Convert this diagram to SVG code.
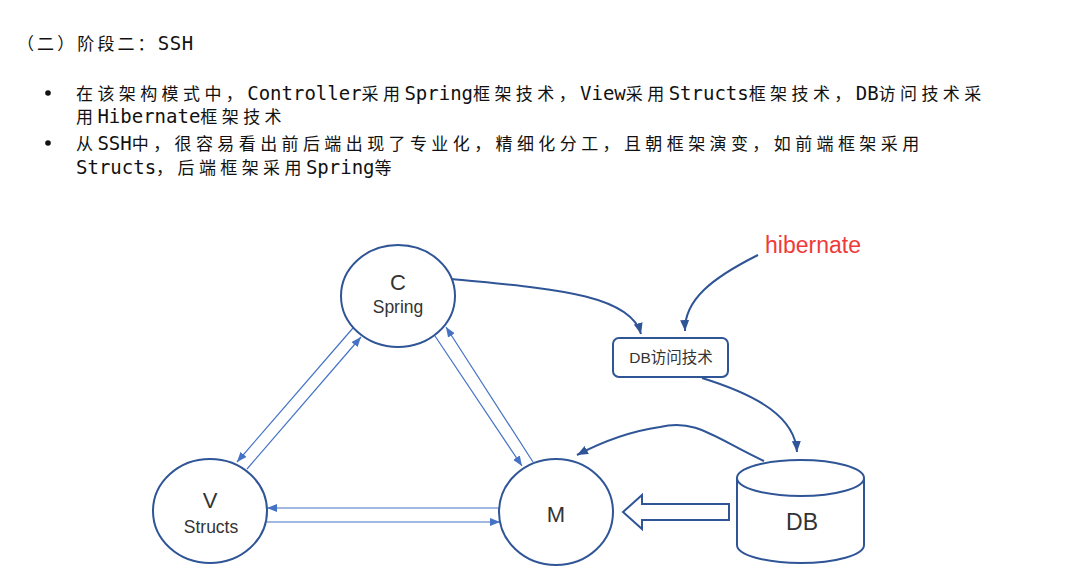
<svg xmlns="http://www.w3.org/2000/svg" width="1081" height="566" viewBox="0 0 1081 566">
<style>
.t{font-family:"DejaVu Sans Mono","Noto Sans CJK SC",monospace;font-size:17px;letter-spacing:4.4px;fill:#111}
.l{font-size:19px;letter-spacing:0px}
.node{fill:#fff;stroke:#2F5597;stroke-width:2}
.lbl{font-family:"Liberation Sans","Noto Sans CJK SC",sans-serif;fill:#333;text-anchor:middle}
.thin{fill:none;stroke:#4472C4;stroke-width:1.2}
.curve{fill:none;stroke:#2F5597;stroke-width:2}
</style>
<defs>
<marker id="ah" markerUnits="userSpaceOnUse" markerWidth="12" markerHeight="10" refX="11" refY="5" orient="auto">
<path d="M0,0.5 L11,5 L0,9.5 z" fill="#2F5597"/>
</marker>
<marker id="al" markerUnits="userSpaceOnUse" markerWidth="10" markerHeight="8" refX="10" refY="4" orient="auto">
<path d="M0,0 L10,4 L0,8 z" fill="#4472C4"/>
</marker>
</defs>
<rect width="1081" height="566" fill="#fff"/>

<g id="heading">
<text class="t" x="17" y="50" style="letter-spacing:3.1px">（二）阶段二：<tspan class="l" style="letter-spacing:0.6px">SSH</tspan></text>
</g>
<g id="bullets">
<circle cx="48" cy="93" r="2.8" fill="#111"/>
<circle cx="48" cy="143" r="2.8" fill="#111"/>
<text class="t" x="76" y="100">在该架构模式中，<tspan class="l">Controller</tspan>采用<tspan class="l">Spring</tspan>框架技术，<tspan class="l">View</tspan>采用<tspan class="l">Structs</tspan>框架技术，<tspan class="l">DB</tspan>访问技术采</text>
<text class="t" x="76" y="123">用<tspan class="l">Hibernate</tspan>框架技术</text>
<text class="t" x="76" y="150">从<tspan class="l">SSH</tspan>中，很容易看出前后端出现了专业化，精细化分工，且朝框架演变，如前端框架采用</text>
<text class="t" x="76" y="174"><tspan class="l">Structs</tspan>，后端框架采用<tspan class="l">Spring</tspan>等</text>
</g>

<g id="connectors">
<path class="thin" d="M353,328 L237,462" marker-end="url(#al)"/>
<path class="thin" d="M247,469 L361,337" marker-end="url(#al)"/>
<path class="thin" d="M435,336 L522,466" marker-end="url(#al)"/>
<path class="thin" d="M533,462 L446,327" marker-end="url(#al)"/>
<path class="thin" d="M500,508 L267,508" marker-end="url(#al)"/>
<path class="thin" d="M267,522 L500,522" marker-end="url(#al)"/>
<path class="curve" d="M451,279 C540,288 630,292 641,334" marker-end="url(#ah)"/>
<path class="curve" d="M758,255 C712,278 684,300 685,331" marker-end="url(#ah)"/>
<path class="curve" d="M702,378 C760,396 795,418 797,452" marker-end="url(#ah)"/>
<path class="curve" d="M764,461 C715,438 695,418 660,427 C625,432 598,444 577,455" marker-end="url(#ah)"/>
<polygon points="623,512 642,495 642,504 729,504 729,520 642,520 642,529" fill="#fff" stroke="#2F5597" stroke-width="2" stroke-linejoin="miter"/>
</g>

<g id="node-C">
<ellipse class="node" cx="398" cy="296" rx="57" ry="51"/>
<text class="lbl" x="398" y="290" font-size="22">C</text>
<text class="lbl" x="398" y="313" font-size="17.5">Spring</text>
</g>
<g id="node-V">
<ellipse class="node" cx="210" cy="511" rx="57" ry="52"/>
<text class="lbl" x="210" y="508" font-size="22">V</text>
<text class="lbl" x="211" y="533" font-size="17.5">Structs</text>
</g>
<g id="node-M">
<ellipse class="node" cx="556" cy="512" rx="57" ry="53"/>
<text class="lbl" x="556" y="522" font-size="22">M</text>
</g>
<g id="node-DB">
<path class="node" d="M737,478 L737,545 A63.5,18 0 0 0 864,545 L864,478"/>
<ellipse class="node" cx="800.5" cy="478" rx="63.5" ry="18"/>
<text class="lbl" x="802" y="530" font-size="23">DB</text>
</g>
<g id="node-dbaccess">
<rect class="node" x="613" y="338" width="115" height="39" rx="6"/>
<text class="lbl" x="671" y="363" font-size="15.5">DB访问技术</text>
</g>
<g id="node-hibernate">
<text class="lbl" x="813" y="253" font-size="23" style="fill:#F03A3A">hibernate</text>
</g>
</svg>
